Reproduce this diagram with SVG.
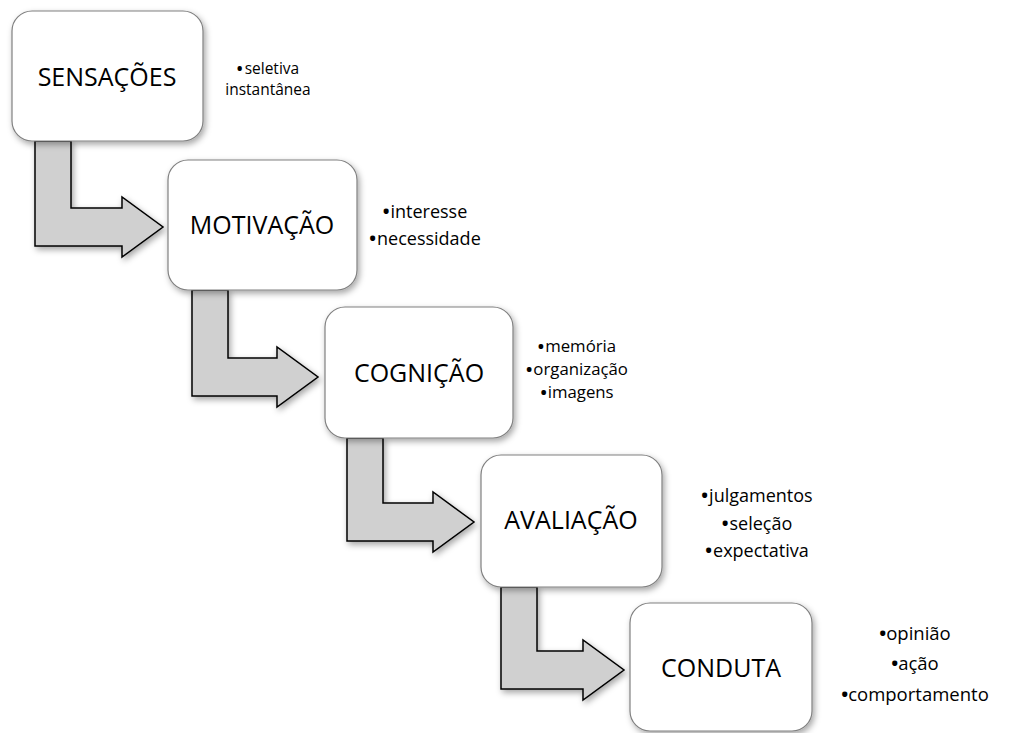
<svg xmlns="http://www.w3.org/2000/svg" width="1024" height="733" viewBox="0 0 1024 733">
<defs>
<filter id="sh" x="-20%" y="-20%" width="140%" height="140%">
<feDropShadow dx="2" dy="3" stdDeviation="3" flood-color="#000" flood-opacity="0.35"/>
</filter>
<style>
.box{fill:#fff;stroke:#808080;stroke-width:1.2;filter:url(#sh)}
.arr{fill:#d0d0d0;stroke:#000;stroke-width:1.5;stroke-linejoin:miter;filter:url(#sh)}
.lbl{font-family:"Open Sans","Liberation Sans",sans-serif;font-size:25px;fill:#000;text-anchor:middle}
.b{font-family:"Open Sans","Liberation Sans",sans-serif;font-size:18px;fill:#000;text-anchor:middle}
.d{font-weight:700}
</style>
</defs>
<rect width="1024" height="733" fill="#fff"/>
<g id="connectors">
<path class="arr" d="M35,141 L71,141 L71,208 L122,208 L122,197 L163,227 L122,257 L122,246 L35,246 Z"/>
<path class="arr" d="M192,290 L228,290 L228,358 L277,358 L277,347 L318,377 L277,407 L277,396 L192,396 Z"/>
<path class="arr" d="M347,438 L383,438 L383,503 L433,503 L433,492 L474,522 L433,552 L433,541 L347,541 Z"/>
<path class="arr" d="M501,587 L537,587 L537,651 L583,651 L583,640 L624,670 L583,700 L583,689 L501,689 Z"/>
</g>
<g id="sensacoes">
<rect class="box" x="12" y="11" width="191" height="130" rx="20"/>
<text class="lbl" x="107" y="86">SENSAÇÕES</text>
<text class="b" x="268" y="74" style="font-size:15.5px"><tspan class="d">•</tspan><tspan dx="2">seletiva</tspan></text>
<text class="b" x="268" y="95" style="font-size:15.5px">instantânea</text>
</g>
<g id="motivacao">
<rect class="box" x="168" y="160" width="189" height="130" rx="20"/>
<text class="lbl" x="262" y="234">MOTIVAÇÃO</text>
<text class="b" x="425" y="218"><tspan class="d">•</tspan><tspan dx="1">interesse</tspan></text>
<text class="b" x="425" y="245"><tspan class="d">•</tspan><tspan dx="1">necessidade</tspan></text>
</g>
<g id="cognicao">
<rect class="box" x="325" y="307" width="188" height="131" rx="20"/>
<text class="lbl" x="419" y="382">COGNIÇÃO</text>
<text class="b" x="577" y="352" style="font-size:16.8px"><tspan class="d">•</tspan><tspan dx="1">memória</tspan></text>
<text class="b" x="577" y="375" style="font-size:16.8px"><tspan class="d">•</tspan><tspan dx="1">organização</tspan></text>
<text class="b" x="577" y="398" style="font-size:16.8px"><tspan class="d">•</tspan><tspan dx="1">imagens</tspan></text>
</g>
<g id="avaliacao">
<rect class="box" x="481" y="455" width="181" height="132" rx="20"/>
<text class="lbl" x="571" y="529">AVALIAÇÃO</text>
<text class="b" x="757" y="502"><tspan class="d">•</tspan><tspan dx="1">julgamentos</tspan></text>
<text class="b" x="757" y="530"><tspan class="d">•</tspan><tspan dx="1">seleção</tspan></text>
<text class="b" x="757" y="557"><tspan class="d">•</tspan><tspan dx="1">expectativa</tspan></text>
</g>
<g id="conduta">
<rect class="box" x="630" y="603" width="182" height="128" rx="20"/>
<text class="lbl" x="721" y="677">CONDUTA</text>
<text class="b" x="915" y="640" style="font-size:18.5px"><tspan class="d">•</tspan>opinião</text>
<text class="b" x="915" y="670" style="font-size:18.5px"><tspan class="d">•</tspan>ação</text>
<text class="b" x="915" y="701" style="font-size:18.5px"><tspan class="d">•</tspan>comportamento</text>
</g>
</svg>
